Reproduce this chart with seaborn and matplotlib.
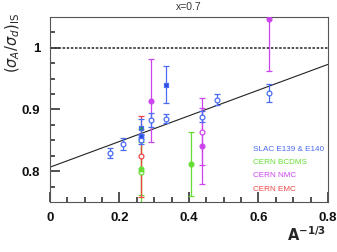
import matplotlib
matplotlib.use("Agg")
import matplotlib.pyplot as plt
import seaborn as sns
import pandas as pd
from matplotlib.ticker import FixedLocator

sns.set_theme(style="ticks")
plt.rcParams['font.family'] = ['Liberation Sans', 'DejaVu Sans']

# SLAC E139 & E140 (open circles)
slac_x = [0.172, 0.210, 0.2616, 0.292, 0.333, 0.437, 0.481, 0.630]
slac_y = [0.830, 0.844, 0.851, 0.883, 0.885, 0.888, 0.916, 0.927]
slac_e = [0.008, 0.010, 0.007, 0.011, 0.007, 0.009, 0.009, 0.015]
# SLAC filled squares
slacsq_x = [0.2616, 0.333]
slacsq_y = [0.857, 0.940]
slacsq_e = [0.004, 0.030]
# overlapping square (SLAC / BCDMS)
mixsq_x = [0.2616]
mixsq_y = [0.870]
mixsq_e = [0.014]
# CERN BCDMS
bcdms_x = [0.2616, 0.405]
bcdms_y = [0.804, 0.812]
bcdms_e = [0.043, 0.052]
bcdms_open_x = [0.2616]
bcdms_open_y = [0.798]
bcdms_open_e = [0.070]
# CERN NMC
nmc_x = [0.292, 0.437, 0.630]
nmc_y = [0.914, 0.841, 1.047]
nmc_e = [0.067, 0.062, 0.085]
nmc_open_x = [0.437]
nmc_open_y = [0.864]
nmc_open_e = [0.054]
# CERN EMC
emc_x = [0.2616]
emc_y = [0.824]
emc_e = [0.065]
# fit line
fit_x = [0.0, 0.8]
fit_y = [0.8065, 0.973]

x_ticks = [0, 0.2, 0.4, 0.6, 0.8]
x_ticklabels = ['0', '0.2', '0.4', '0.6', '0.8']
y_ticks = [0.8, 0.9, 1.0]
y_ticklabels = ['0.8', '0.9', '1']
x_minor = [0.05, 0.1, 0.15, 0.25, 0.3, 0.35, 0.45, 0.5, 0.55, 0.65, 0.7, 0.75]
y_minor = [0.775, 0.825, 0.85, 0.875, 0.925, 0.95, 0.975, 1.025]

legend_labels = ["SLAC E139 & E140", "CERN BCDMS", "CERN NMC", "CERN EMC"]

blue = '#4a6cf5'
blue_d = '#2a48e0'
green = '#66dd33'
purple = '#cc44ee'
red = '#ee4444'

fig = plt.figure(figsize=(3.37, 2.52), dpi=100)
ax = fig.add_axes([0.148, 0.198, 0.825, 0.735])

sns.lineplot(x=fit_x, y=fit_y, ax=ax, color='#222222', lw=0.8)
ax.axhline(1.0, color='#333333', lw=1.2, ls=(0, (1.5, 1.0)))

def eb(x, y, e, color, marker, mfc, s=12, z=3):
    ax.errorbar(x, y, yerr=e, fmt='none', ecolor=color, elinewidth=0.9,
                capsize=2.0, capthick=0.9, zorder=z)
    sns.scatterplot(x=x, y=y, ax=ax, marker=marker, s=s,
                    facecolor=mfc, edgecolor=color, linewidth=0.9, zorder=z + 1)

eb(bcdms_open_x, bcdms_open_y, bcdms_open_e, green, 'o', 'white')
eb(bcdms_x, bcdms_y, bcdms_e, green, 'o', green)
eb(emc_x, emc_y, emc_e, red, 'o', 'white')
eb(nmc_x, nmc_y, nmc_e, purple, 'o', purple)
eb(nmc_open_x, nmc_open_y, nmc_open_e, purple, 'o', 'white')
eb(slac_x, slac_y, slac_e, blue, 'o', 'white', z=5)
eb(slacsq_x, slacsq_y, slacsq_e, blue, 's', blue_d, s=11, z=5)
eb(mixsq_x, mixsq_y, mixsq_e, blue, 's', '#2f8a6a', s=11, z=5)

ax.set_xlim(0, 0.8)
ax.set_ylim(0.75, 1.05)
ax.set_xticks(x_ticks)
ax.set_xticklabels(x_ticklabels)
ax.set_yticks(y_ticks)
ax.set_yticklabels(y_ticklabels)
ax.xaxis.set_minor_locator(FixedLocator(x_minor))
ax.yaxis.set_minor_locator(FixedLocator(y_minor))
ax.tick_params(axis='both', which='major', direction='in', length=7, width=1.2,
               color='#333333', labelsize=9.5, labelcolor='#111111', pad=7)
ax.tick_params(axis='both', which='minor', direction='in', length=3.5, width=1.2,
               color='#333333')
for lab in ax.get_xticklabels() + ax.get_yticklabels():
    lab.set_fontweight('bold')
for sp in ax.spines.values():
    sp.set_visible(True)
    sp.set_color('#555555')
    sp.set_linewidth(0.8)

ax.set_title('x=0.7', fontsize=7.5, pad=5, color='#333333')
ax.set_ylabel(r'$(\sigma_A/\sigma_d)_{\rm IS}$', fontsize=10.5, va='center',
              fontweight='bold')
ax.yaxis.set_label_coords(-0.135, 0.86)
fig.text(0.968, 0.03, r'$\mathbf{A^{-1/3}}$', ha='right', va='bottom', fontsize=10.5)

cols = [blue, green, purple, red]
for i, (lab, c) in enumerate(zip(legend_labels, cols)):
    ax.text(0.73, 0.285 - i * 0.072, lab, transform=ax.transAxes, color=c,
            fontsize=5.9, va='center', ha='left')

fig.savefig('out.png', dpi=100)
